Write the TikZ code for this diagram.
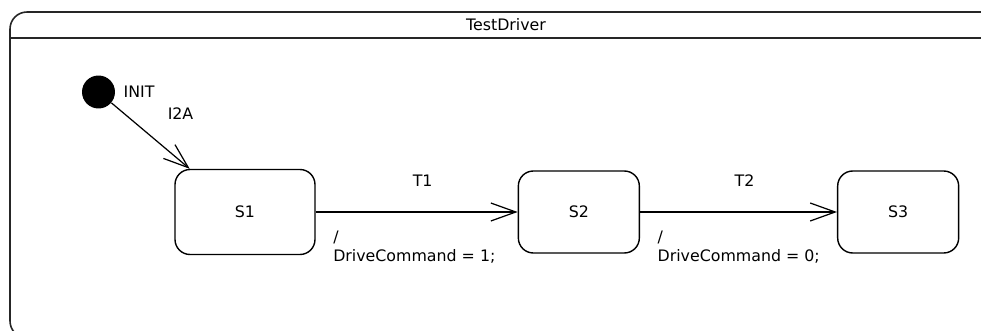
\documentclass[tikz,border=0pt]{standalone}
\usepackage{fontspec}
\setmainfont{DejaVu Sans}
\usepackage{tikz}
\usetikzlibrary{positioning, arrows.meta}

\begin{document}
\begin{tikzpicture}[
    x=0.02cm, y=-0.02cm,
    font=\fontsize{9}{11.3}\selectfont,
    state/.style={rectangle, draw, line width=0.8pt, rounded corners=0.3cm, minimum width=#1, minimum height=1.64cm},
    state/.default=2.42cm,
    trans/.style={-{Straight Barb[length=5mm, width=3.6mm]}, line width=0.7pt},
    lbl/.style={inner sep=0pt},
]

\useasboundingbox (0,0) rectangle (981,331);
\clip (0,0) rectangle (981,331);

\draw[line width=0.9pt, black!85, rounded corners=0.34cm] (10,12) rectangle (1020,338);
\draw[line width=0.9pt, black!85] (10,38) -- (1020,38);
\node (title) at (506,25) {TestDriver};

\node[circle, fill=black, minimum size=0.66cm, inner sep=0pt] (init) at (98.5,92) {};
\node[lbl, right=0.16cm of init] (initlbl) {INIT};
\node[state=2.8cm, minimum height=1.7cm] (s1) at (245,212) {S1};
\node[state, right=4.04cm of s1] (s2) {S2};
\node[state, right=3.94cm of s2] (s3) {S3};

\draw[trans] (init) -- node[lbl, midway, xshift=0.6cm, yshift=0.44cm] {I2A} (s1.142);

\foreach \a/\b/\t/\v in {s1/s2/T1/1, s2/s3/T2/0} {
    \draw[trans] (\a) -- node[lbl, midway, xshift=0.12cm, yshift=0.62cm] {\t}
        node[lbl, pos=0, anchor=north west, xshift=0.34cm, yshift=-0.36cm, align=left] {/\\DriveCommand = \v;} (\b);
}

\end{tikzpicture}
\end{document}
